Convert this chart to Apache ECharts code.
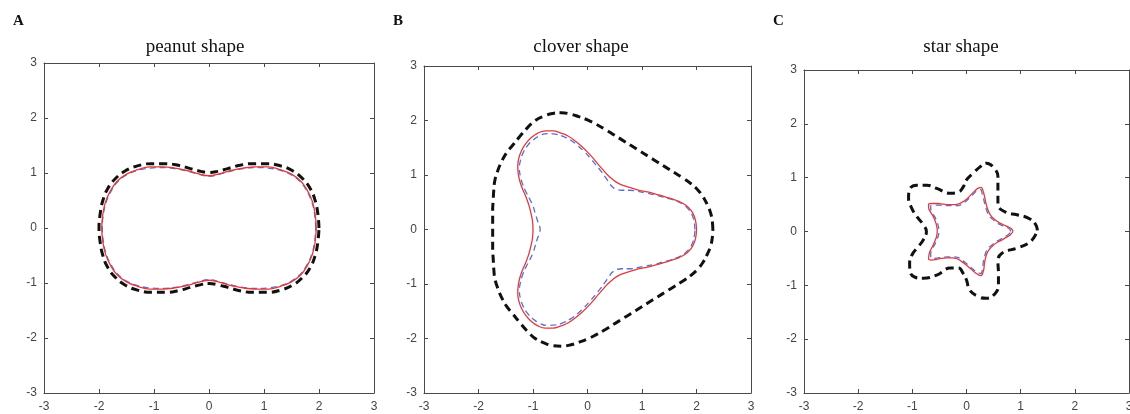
<!DOCTYPE html>
<html>
<head>
<meta charset="utf-8">
<script src="https://cdn.jsdelivr.net/npm/echarts@6/dist/echarts.min.js"></script>
<style>
  html, body { margin: 0; padding: 0; background: #fff; }
  #main { width: 1130px; height: 414px; }
</style>
</head>
<body>
<div id="main"></div>
<script>
// axis range shared by the three panels
var axisMin = -3, axisMax = 3, axisStep = 1;
var panelTitles = ['peanut shape', 'clover shape', 'star shape'];
var panelTags = ['A', 'B', 'C'];

// ---- A: peanut ----
var peanutOuter = [[2.00,0.00],[1.98,0.25],[1.93,0.50],[1.84,0.72],[1.70,0.90],[1.52,1.04],[1.30,1.13],[1.05,1.17],[0.80,1.17],[0.56,1.14],[0.34,1.08],[0.15,1.03],[0.00,1.01],[-0.15,1.03],[-0.34,1.08],[-0.56,1.14],[-0.80,1.17],[-1.05,1.17],[-1.30,1.13],[-1.52,1.04],[-1.70,0.90],[-1.84,0.72],[-1.93,0.50],[-1.98,0.25],[-2.00,0.00],[-1.98,-0.25],[-1.93,-0.50],[-1.84,-0.72],[-1.70,-0.90],[-1.52,-1.04],[-1.30,-1.13],[-1.05,-1.17],[-0.80,-1.17],[-0.56,-1.14],[-0.34,-1.08],[-0.15,-1.03],[0.00,-1.01],[0.15,-1.03],[0.34,-1.08],[0.56,-1.14],[0.80,-1.17],[1.05,-1.17],[1.30,-1.13],[1.52,-1.04],[1.70,-0.90],[1.84,-0.72],[1.93,-0.50],[1.98,-0.25],[2.00,0.00]];
var peanutRecon = [[1.94,0.00],[1.92,0.25],[1.87,0.47],[1.78,0.67],[1.66,0.84],[1.49,0.97],[1.29,1.05],[1.07,1.09],[0.85,1.10],[0.62,1.08],[0.42,1.04],[0.20,0.98],[0.00,0.94],[-0.20,0.98],[-0.42,1.04],[-0.62,1.08],[-0.85,1.10],[-1.07,1.09],[-1.29,1.05],[-1.49,0.97],[-1.66,0.84],[-1.78,0.67],[-1.87,0.47],[-1.92,0.25],[-1.94,0.00],[-1.92,-0.25],[-1.87,-0.47],[-1.78,-0.67],[-1.66,-0.84],[-1.49,-0.97],[-1.29,-1.05],[-1.07,-1.09],[-0.85,-1.10],[-0.62,-1.08],[-0.42,-1.04],[-0.20,-0.98],[0.00,-0.94],[0.20,-0.98],[0.42,-1.04],[0.62,-1.08],[0.85,-1.10],[1.07,-1.09],[1.29,-1.05],[1.49,-0.97],[1.66,-0.84],[1.78,-0.67],[1.87,-0.47],[1.92,-0.25],[1.94,0.00]];
var peanutTrue = [[1.95,0.00],[1.93,0.25],[1.88,0.48],[1.79,0.68],[1.67,0.85],[1.50,0.98],[1.30,1.06],[1.08,1.11],[0.85,1.11],[0.62,1.09],[0.42,1.05],[0.20,0.99],[0.00,0.95],[-0.20,0.99],[-0.42,1.05],[-0.62,1.09],[-0.85,1.11],[-1.08,1.11],[-1.30,1.06],[-1.50,0.98],[-1.67,0.85],[-1.79,0.68],[-1.88,0.48],[-1.93,0.25],[-1.95,0.00],[-1.93,-0.25],[-1.88,-0.48],[-1.79,-0.68],[-1.67,-0.85],[-1.50,-0.98],[-1.30,-1.06],[-1.08,-1.11],[-0.85,-1.11],[-0.62,-1.09],[-0.42,-1.05],[-0.20,-0.99],[0.00,-0.95],[0.20,-0.99],[0.42,-1.05],[0.62,-1.09],[0.85,-1.11],[1.08,-1.11],[1.30,-1.06],[1.50,-0.98],[1.67,-0.85],[1.79,-0.68],[1.88,-0.48],[1.93,-0.25],[1.95,0.00]];

// ---- B: clover ----
var cloverOuter = [[2.30,0.00],[2.29,0.15],[2.26,0.30],[2.20,0.45],[2.12,0.60],[2.02,0.73],[1.90,0.84],[1.76,0.94],[1.60,1.04],[1.44,1.14],[1.28,1.24],[1.12,1.34],[0.96,1.44],[0.80,1.54],[0.64,1.64],[0.48,1.74],[0.32,1.84],[0.16,1.93],[0.00,2.01],[-0.16,2.07],[-0.32,2.12],[-0.48,2.14],[-0.64,2.13],[-0.80,2.08],[-0.96,2.00],[-1.10,1.87],[-1.24,1.71],[-1.37,1.55],[-1.49,1.40],[-1.58,1.24],[-1.65,1.07],[-1.70,0.90],[-1.72,0.72],[-1.73,0.54],[-1.74,0.36],[-1.74,0.18],[-1.74,0.00],[-1.74,-0.18],[-1.74,-0.36],[-1.73,-0.54],[-1.72,-0.72],[-1.70,-0.90],[-1.65,-1.07],[-1.58,-1.24],[-1.49,-1.40],[-1.37,-1.55],[-1.24,-1.71],[-1.10,-1.87],[-0.96,-2.00],[-0.80,-2.08],[-0.64,-2.13],[-0.48,-2.14],[-0.32,-2.12],[-0.16,-2.07],[0.00,-2.01],[0.16,-1.93],[0.32,-1.84],[0.48,-1.74],[0.64,-1.64],[0.80,-1.54],[0.96,-1.44],[1.12,-1.34],[1.28,-1.24],[1.44,-1.14],[1.60,-1.04],[1.76,-0.94],[1.90,-0.84],[2.02,-0.73],[2.12,-0.60],[2.20,-0.45],[2.26,-0.30],[2.29,-0.15],[2.30,0.00]];
var cloverRecon = [[1.97,0.00],[1.96,0.12],[1.93,0.24],[1.87,0.35],[1.78,0.44],[1.66,0.51],[1.52,0.56],[1.37,0.60],[1.22,0.64],[1.07,0.67],[0.92,0.70],[0.77,0.72],[0.63,0.72],[0.52,0.74],[0.45,0.79],[0.39,0.87],[0.32,0.97],[0.24,1.08],[0.15,1.19],[0.05,1.31],[-0.06,1.43],[-0.18,1.54],[-0.31,1.64],[-0.45,1.71],[-0.59,1.75],[-0.74,1.76],[-0.88,1.72],[-1.00,1.64],[-1.10,1.54],[-1.18,1.41],[-1.23,1.27],[-1.25,1.12],[-1.23,0.97],[-1.19,0.83],[-1.13,0.69],[-1.06,0.56],[-1.00,0.43],[-0.96,0.30],[-0.92,0.17],[-0.88,0.07],[-0.87,0.00],[-0.88,-0.07],[-0.92,-0.17],[-0.96,-0.30],[-1.00,-0.43],[-1.06,-0.56],[-1.13,-0.69],[-1.19,-0.83],[-1.23,-0.97],[-1.25,-1.12],[-1.23,-1.27],[-1.18,-1.41],[-1.10,-1.54],[-1.00,-1.64],[-0.88,-1.72],[-0.74,-1.76],[-0.59,-1.75],[-0.45,-1.71],[-0.31,-1.64],[-0.18,-1.54],[-0.06,-1.43],[0.05,-1.31],[0.15,-1.19],[0.24,-1.08],[0.32,-0.97],[0.39,-0.87],[0.45,-0.79],[0.52,-0.74],[0.63,-0.72],[0.77,-0.72],[0.92,-0.70],[1.07,-0.67],[1.22,-0.64],[1.37,-0.60],[1.52,-0.56],[1.66,-0.51],[1.78,-0.44],[1.87,-0.35],[1.93,-0.24],[1.96,-0.12],[1.97,0.00]];
var cloverTrue = [[2.00,0.00],[1.99,0.12],[1.96,0.24],[1.90,0.35],[1.81,0.44],[1.69,0.51],[1.55,0.56],[1.40,0.61],[1.25,0.65],[1.10,0.69],[0.95,0.72],[0.81,0.76],[0.68,0.80],[0.56,0.85],[0.46,0.92],[0.37,1.00],[0.29,1.09],[0.20,1.19],[0.11,1.30],[0.01,1.41],[-0.10,1.52],[-0.22,1.62],[-0.35,1.71],[-0.49,1.77],[-0.63,1.81],[-0.77,1.81],[-0.91,1.77],[-1.03,1.69],[-1.13,1.58],[-1.21,1.45],[-1.26,1.31],[-1.28,1.16],[-1.27,1.02],[-1.24,0.88],[-1.19,0.74],[-1.13,0.60],[-1.08,0.46],[-1.04,0.31],[-1.01,0.16],[-1.00,0.00],[-1.01,-0.16],[-1.04,-0.31],[-1.08,-0.46],[-1.13,-0.60],[-1.19,-0.74],[-1.24,-0.88],[-1.27,-1.02],[-1.28,-1.16],[-1.26,-1.31],[-1.21,-1.45],[-1.13,-1.58],[-1.03,-1.69],[-0.91,-1.77],[-0.77,-1.81],[-0.63,-1.81],[-0.49,-1.77],[-0.35,-1.71],[-0.22,-1.62],[-0.10,-1.52],[0.01,-1.41],[0.11,-1.30],[0.20,-1.19],[0.29,-1.09],[0.37,-1.00],[0.46,-0.92],[0.56,-0.85],[0.68,-0.80],[0.81,-0.76],[0.95,-0.72],[1.10,-0.69],[1.25,-0.65],[1.40,-0.61],[1.55,-0.56],[1.69,-0.51],[1.81,-0.44],[1.90,-0.35],[1.96,-0.24],[1.99,-0.12],[2.00,0.00]];

// ---- C: star ----
var starOuter = [[1.31,0.02],[1.27,0.14],[1.14,0.25],[0.93,0.31],[0.72,0.36],[0.58,0.50],[0.58,0.75],[0.58,1.02],[0.49,1.20],[0.37,1.27],[0.25,1.20],[0.12,1.08],[0.00,0.96],[-0.06,0.83],[-0.15,0.73],[-0.30,0.71],[-0.55,0.80],[-0.73,0.86],[-0.92,0.86],[-1.05,0.78],[-1.07,0.62],[-1.01,0.43],[-0.92,0.28],[-0.80,0.13],[-0.74,0.00],[-0.80,-0.16],[-0.89,-0.28],[-1.01,-0.44],[-1.05,-0.59],[-1.04,-0.75],[-0.95,-0.85],[-0.80,-0.87],[-0.55,-0.81],[-0.30,-0.68],[-0.15,-0.68],[-0.06,-0.78],[0.00,-0.90],[0.06,-1.09],[0.22,-1.21],[0.37,-1.24],[0.53,-1.15],[0.59,-1.00],[0.59,-0.78],[0.58,-0.55],[0.66,-0.40],[0.93,-0.31],[1.14,-0.22],[1.24,-0.12],[1.31,0.02]];
var starRecon = [[0.82,0.00],[0.79,0.05],[0.72,0.09],[0.64,0.12],[0.55,0.17],[0.48,0.23],[0.42,0.29],[0.38,0.37],[0.35,0.46],[0.33,0.54],[0.31,0.63],[0.29,0.70],[0.26,0.78],[0.20,0.76],[0.14,0.71],[0.08,0.65],[0.01,0.58],[-0.07,0.52],[-0.15,0.48],[-0.24,0.48],[-0.32,0.48],[-0.41,0.48],[-0.50,0.49],[-0.58,0.49],[-0.66,0.48],[-0.66,0.43],[-0.64,0.35],[-0.59,0.28],[-0.55,0.19],[-0.52,0.10],[-0.51,0.01],[-0.52,-0.08],[-0.55,-0.16],[-0.59,-0.25],[-0.63,-0.32],[-0.66,-0.40],[-0.66,-0.48],[-0.61,-0.50],[-0.53,-0.49],[-0.45,-0.48],[-0.34,-0.47],[-0.25,-0.47],[-0.16,-0.48],[-0.10,-0.52],[-0.02,-0.58],[0.05,-0.64],[0.11,-0.69],[0.17,-0.74],[0.26,-0.78],[0.29,-0.73],[0.30,-0.67],[0.31,-0.57],[0.33,-0.48],[0.36,-0.38],[0.41,-0.30],[0.47,-0.25],[0.54,-0.19],[0.62,-0.15],[0.69,-0.10],[0.76,-0.07],[0.82,0.00]];
var starTrue = [[0.86,0.00],[0.83,0.05],[0.76,0.09],[0.67,0.13],[0.58,0.18],[0.50,0.24],[0.44,0.31],[0.40,0.39],[0.37,0.48],[0.35,0.57],[0.33,0.66],[0.31,0.74],[0.27,0.82],[0.21,0.80],[0.15,0.75],[0.08,0.68],[0.01,0.61],[-0.07,0.55],[-0.16,0.51],[-0.25,0.50],[-0.34,0.50],[-0.43,0.51],[-0.53,0.52],[-0.61,0.52],[-0.70,0.51],[-0.70,0.45],[-0.67,0.37],[-0.62,0.29],[-0.58,0.20],[-0.55,0.10],[-0.54,0.01],[-0.55,-0.08],[-0.58,-0.17],[-0.62,-0.26],[-0.66,-0.34],[-0.69,-0.42],[-0.70,-0.51],[-0.64,-0.53],[-0.56,-0.52],[-0.47,-0.50],[-0.36,-0.49],[-0.26,-0.49],[-0.17,-0.51],[-0.10,-0.55],[-0.02,-0.61],[0.05,-0.67],[0.12,-0.73],[0.18,-0.78],[0.27,-0.82],[0.30,-0.77],[0.32,-0.70],[0.33,-0.60],[0.35,-0.50],[0.38,-0.40],[0.43,-0.32],[0.49,-0.26],[0.57,-0.20],[0.65,-0.16],[0.73,-0.11],[0.80,-0.07],[0.86,0.00]];

var panelData = [
  [peanutOuter, peanutRecon, peanutTrue],
  [cloverOuter, cloverRecon, cloverTrue],
  [starOuter, starRecon, starTrue]
];

var grids = [
  {left: 44, top: 63, width: 330, height: 330, outerBoundsMode: 'none'},
  {left: 424, top: 66, width: 327, height: 327, outerBoundsMode: 'none'},
  {left: 804, top: 70, width: 325, height: 323, outerBoundsMode: 'none'}
];
var titleX = [195, 581, 961];
var tagX = [13, 393, 773];

var axisColor = '#4a4a4a';
var labelStyle = {color: '#444', fontSize: 12, fontFamily: 'Liberation Sans, Arial, sans-serif'};

function makeAxis(dim, gridIndex, pos, showLabel) {
  return {
    type: 'value',
    gridIndex: gridIndex,
    position: pos,
    min: axisMin, max: axisMax, interval: axisStep,
    axisLine: {show: true, onZero: false, lineStyle: {color: axisColor, width: 1}},
    axisTick: {show: true, inside: true, length: 4, lineStyle: {color: axisColor}},
    axisLabel: showLabel ? Object.assign({show: true, margin: dim === 'x' ? 8 : 7}, labelStyle) : {show: false},
    splitLine: {show: false}
  };
}

var xAxes = [], yAxes = [], series = [], graphics = [];
grids.forEach(function (g, i) {
  xAxes.push(makeAxis('x', i, 'bottom', true));
  xAxes.push(makeAxis('x', i, 'top', false));
  yAxes.push(makeAxis('y', i, 'left', true));
  yAxes.push(makeAxis('y', i, 'right', false));

  var d = panelData[i];
  // black dashed outer curve
  series.push({
    type: 'line', xAxisIndex: 2 * i, yAxisIndex: 2 * i, data: d[0],
    showSymbol: false, smooth: 0.45, silent: true,
    lineStyle: {color: '#111', width: 3, type: [8, 5]}
  });
  // blue dashed reconstruction
  series.push({
    type: 'line', xAxisIndex: 2 * i, yAxisIndex: 2 * i, data: d[1],
    showSymbol: false, smooth: 0.45, silent: true,
    lineStyle: {color: '#5a6fd6', width: 1.3, type: [6, 4]}
  });
  // red solid true boundary
  series.push({
    type: 'line', xAxisIndex: 2 * i, yAxisIndex: 2 * i, data: d[2],
    showSymbol: false, smooth: 0.45, silent: true,
    lineStyle: {color: '#e23a3a', width: 1.3}
  });

  graphics.push({
    type: 'text', x: titleX[i], y: 47,
    style: {text: panelTitles[i], font: '19px "Liberation Serif", "Times New Roman", serif',
            fill: '#111', textAlign: 'center', textVerticalAlign: 'middle', align: 'center', verticalAlign: 'middle'}
  });
  graphics.push({
    type: 'text', x: tagX[i], y: 21,
    style: {text: panelTags[i], font: 'bold 15px "Liberation Serif", "Times New Roman", serif',
            fill: '#111', textAlign: 'left', textVerticalAlign: 'middle', align: 'left', verticalAlign: 'middle'}
  });
});

var myChart = echarts.init(document.getElementById('main'));
myChart.setOption({
  animation: false,
  backgroundColor: '#fff',
  grid: grids,
  xAxis: xAxes,
  yAxis: yAxes,
  series: series,
  graphic: graphics
});
</script>
</body>
</html>
